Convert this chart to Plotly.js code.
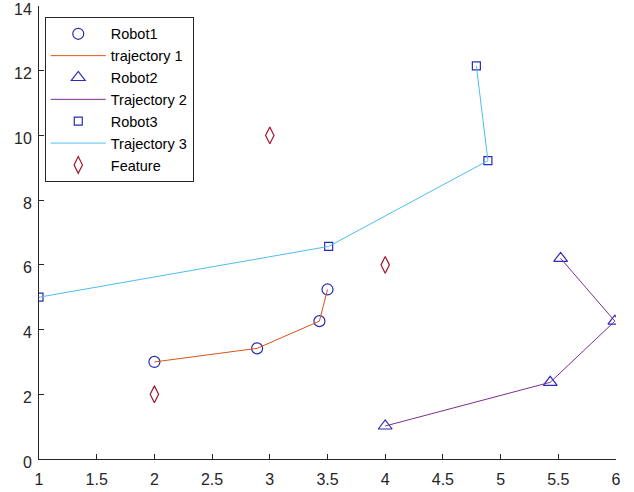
<!DOCTYPE html>
<html>
<head>
<meta charset="utf-8">
<script src="https://cdn.plot.ly/plotly-3.0.1.min.js"></script>
<style>html,body{margin:0;padding:0;background:#fff;}#chart{width:634px;height:492px;}</style>
</head>
<body>
<div id="chart"></div>
<script>
// Data
const robot1X = [2.0, 2.89, 3.43, 3.50];
const robot1Y = [3.0, 3.42, 4.26, 5.24];
const robot2X = [4.0, 5.43, 5.99, 5.52];
const robot2Y = [1.02, 2.37, 4.26, 6.2];
const robot3X = [1.0, 3.51, 4.89, 4.79];
const robot3Y = [5.0, 6.57, 9.22, 12.15];
const featureX = [2, 3, 4];
const featureY = [2, 10, 6];
const xTicks = [1, 1.5, 2, 2.5, 3, 3.5, 4, 4.5, 5, 5.5, 6];
const xTickText = ['1', '1.5', '2', '2.5', '3', '3.5', '4', '4.5', '5', '5.5', '6'];
const yTicks = [0, 2, 4, 6, 8, 10, 12, 14];

const markerBlue = '#2b2bb5';
const traces = [
  {x: robot1X, y: robot1Y, name: 'Robot1', mode: 'markers', type: 'scatter',
   marker: {symbol: 'circle-open', size: 11, color: markerBlue, line: {width: 1.2, color: markerBlue}}},
  {x: robot1X, y: robot1Y, name: 'trajectory 1', mode: 'lines', type: 'scatter',
   line: {color: '#d95319', width: 1}},
  {x: robot2X, y: robot2Y, name: 'Robot2', mode: 'markers', type: 'scatter',
   marker: {symbol: 'triangle-up-open', size: 12, color: markerBlue, line: {width: 1.2, color: markerBlue}}},
  {x: robot2X, y: robot2Y, name: 'Trajectory 2', mode: 'lines', type: 'scatter',
   line: {color: '#7e2f8e', width: 1}},
  {x: robot3X, y: robot3Y, name: 'Robot3', mode: 'markers', type: 'scatter',
   marker: {symbol: 'square-open', size: 8, color: markerBlue, line: {width: 1.2, color: markerBlue}}},
  {x: robot3X, y: robot3Y, name: 'Trajectory 3', mode: 'lines', type: 'scatter',
   line: {color: '#4dbeee', width: 1}},
  {x: featureX, y: featureY, name: 'Feature', mode: 'markers', type: 'scatter',
   marker: {symbol: 'diamond-tall-open', size: 12, color: '#a2142f', line: {width: 1.2, color: '#a2142f'}}}
];

const layout = {
  width: 634, height: 492,
  margin: {l: 39, r: 18, t: 6, b: 33, pad: 0},
  paper_bgcolor: '#ffffff', plot_bgcolor: '#ffffff',
  font: {family: 'Liberation Sans, Arial, sans-serif', size: 16, color: '#262626'},
  showlegend: true,
  xaxis: {range: [1, 6], tickvals: xTicks, ticktext: xTickText, showgrid: false, zeroline: false,
          showline: true, linecolor: '#262626', linewidth: 1, ticks: 'inside', ticklen: 5,
          tickcolor: '#262626', tickfont: {size: 16, color: '#262626'},
          ticklabelstandoff: 6, ticklabeloverflow: 'allow'},
  yaxis: {range: [0, 14], tickvals: yTicks, showgrid: false, zeroline: false,
          showline: true, linecolor: '#262626', linewidth: 1, ticks: 'inside', ticklen: 5,
          tickcolor: '#262626', tickfont: {size: 16, color: '#262626'},
          ticklabelstandoff: 3, ticklabelshift: 3, ticklabeloverflow: 'allow'},
  legend: {x: 0.01, y: 0.976, xanchor: 'left', yanchor: 'top', bgcolor: '#ffffff',
           bordercolor: '#262626', borderwidth: 1, font: {size: 14.5, color: '#000000'},
           itemwidth: 55, tracegroupgap: 0}
};

Plotly.newPlot('chart', traces, layout, {displayModeBar: false, staticPlot: true});
</script>
</body>
</html>
